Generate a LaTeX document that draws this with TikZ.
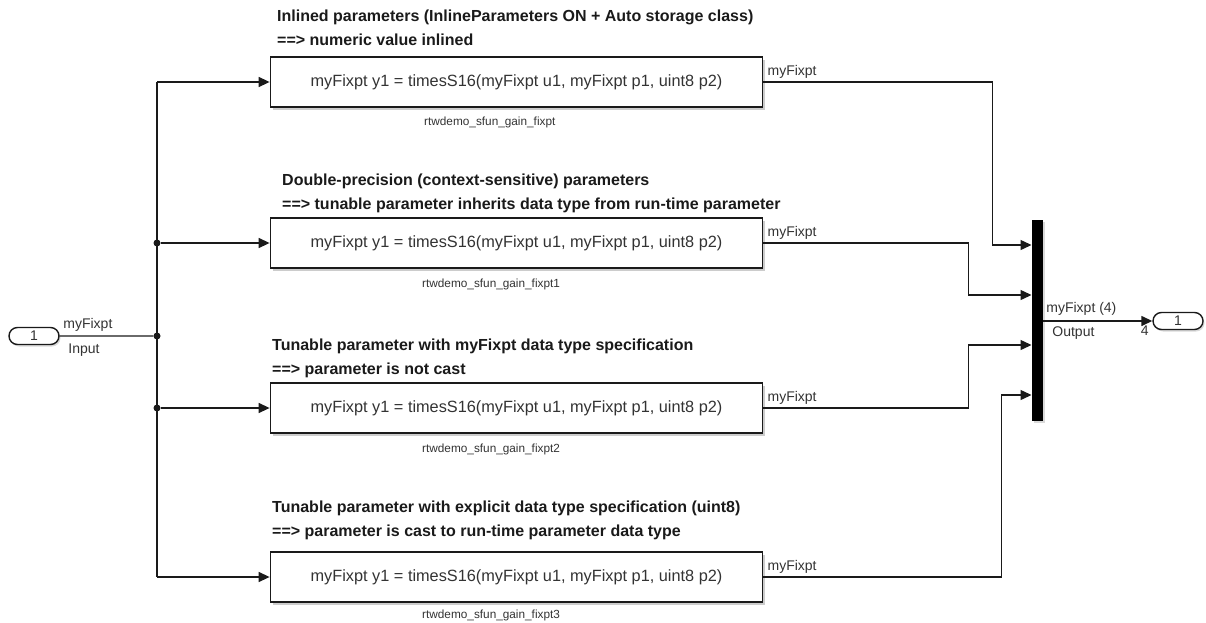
\documentclass[tikz,border=0pt]{standalone}
\usepackage{fontspec}
\setmainfont{Liberation Sans}
\usetikzlibrary{arrows.meta, shapes.misc, shadows}
\definecolor{sl_black}{HTML}{1A1A1A}
\definecolor{sl_gray}{HTML}{333333}

\begin{document}
\begin{tikzpicture}[
    x=1pt, y=-1pt,
    sig/.style={-{Triangle[length=11pt, width=10pt]}, line width=1.4pt, sl_black},
    wire/.style={line width=1.4pt, sl_black},
    blk/.style={draw=sl_black, line width=1.8pt, fill=white,
        minimum width=492pt, minimum height=50pt, inner sep=0pt,
        drop shadow={shadow xshift=2.5pt, shadow yshift=-3pt, opacity=0.4},
        font=\fontsize{16.3}{19}\selectfont, text=sl_gray},
    port/.style={rounded rectangle, draw=sl_black, line width=1.4pt, fill=white,
        minimum width=50pt, minimum height=17pt, inner sep=0pt,
        drop shadow={shadow xshift=1.5pt, shadow yshift=-2pt, opacity=0.3},
        font=\fontsize{14}{16}\selectfont, text=sl_gray},
    dot/.style={circle, fill=sl_black, inner sep=0pt, minimum size=7pt},
    hdr/.style={anchor=north west, align=left, inner sep=0pt,
        font=\bfseries\fontsize{16}{24}\selectfont, text=sl_black},
    lbl/.style={inner sep=0pt, font=\fontsize{14}{16}\selectfont, text=sl_gray},
    bname/.style={inner sep=0pt, font=\fontsize{11.8}{14}\selectfont, text=sl_gray}
]
\useasboundingbox (0,0) rectangle (1206,623);

% ===== Eingang und Verzweigung =====
\node[port] (in1) at (34,336) {1};
\node[dot] (j2) at (157,243) {};
\node[dot] (j0) at (157,336) {};
\node[dot] (j3) at (157,408) {};
\coordinate (j1) at (157,82);
\coordinate (j4) at (157,577);
\draw[wire] (in1) -- (j0)
    node[lbl, pos=0.0, anchor=south west, xshift=3pt, yshift=4pt] {myFixpt}
    node[lbl, pos=0.0, anchor=north west, xshift=8pt, yshift=-7pt] {Input};
\draw[wire] (j1) -- (j4);

% ===== S-Function-Bloecke =====
\node[blk] (b1) at (516.5,82) {myFixpt y1 = timesS16(myFixpt u1, myFixpt p1, uint8 p2)};
\node[blk] (b2) at (516.5,243) {myFixpt y1 = timesS16(myFixpt u1, myFixpt p1, uint8 p2)};
\node[blk] (b3) at (516.5,408) {myFixpt y1 = timesS16(myFixpt u1, myFixpt p1, uint8 p2)};
\node[blk] (b4) at (516.5,577) {myFixpt y1 = timesS16(myFixpt u1, myFixpt p1, uint8 p2)};

\node[bname, anchor=west] (n1) at (424,122) {rtwdemo\_sfun\_gain\_fixpt};
\node[bname, anchor=west] (n2) at (422,284) {rtwdemo\_sfun\_gain\_fixpt1};
\node[bname, anchor=west] (n3) at (422,449) {rtwdemo\_sfun\_gain\_fixpt2};
\node[bname, anchor=west] (n4) at (422,615) {rtwdemo\_sfun\_gain\_fixpt3};

% Ueberschriften
\node[hdr] (h1) at (277,10) {Inlined parameters (InlineParameters ON + Auto storage class)\\
    ==> numeric value inlined};
\node[hdr] (h2) at (282,174) {Double-precision (context-sensitive) parameters\\
    ==> tunable parameter inherits data type from run-time parameter};
\node[hdr] (h3) at (272,339) {Tunable parameter with myFixpt data type specification\\
    ==> parameter is not cast};
\node[hdr] (h4) at (272,501) {Tunable parameter with explicit data type specification (uint8)\\
    ==> parameter is cast to run-time parameter data type};

\draw[sig] (j1) -- (b1);
\draw[sig] (j2) -- (b2);
\draw[sig] (j3) -- (b3);
\draw[sig] (j4) -- (b4);

% ===== Mux und Ausgang =====
\node[fill=black, minimum width=11pt, minimum height=201pt, inner sep=0pt,
    drop shadow={shadow xshift=2pt, shadow yshift=-2.5pt, opacity=0.3}] (mux) at (1037,320) {};
\coordinate (m1) at (1031.5,245);
\coordinate (m2) at (1031.5,295);
\coordinate (m3) at (1031.5,345);
\coordinate (m4) at (1031.5,395);

\draw[sig] (b1.east) -- ++(229,0) |- (m1);
\draw[sig] (b2.east) -- ++(205,0) |- (m2);
\draw[sig] (b3.east) -- ++(205,0) |- (m3);
\draw[sig] (b4.east) -- ++(238,0) |- (m4);
\foreach \b in {b1, b2, b3, b4}
    \node[lbl, anchor=south west] at ([xshift=4pt, yshift=3pt]\b.east) {myFixpt};

\node[port] (out1) at (1178,321) {1};
\draw[sig] (mux.east |- out1) -- (out1)
    node[lbl, pos=0.0, anchor=south west, xshift=3pt, yshift=5pt] {myFixpt (4)}
    node[lbl, pos=0.0, anchor=north west, xshift=9pt, yshift=-5pt] {Output}
    node[lbl, pos=1.0, anchor=north east, xshift=-3pt, yshift=-4pt] {4};

\end{tikzpicture}
\end{document}
